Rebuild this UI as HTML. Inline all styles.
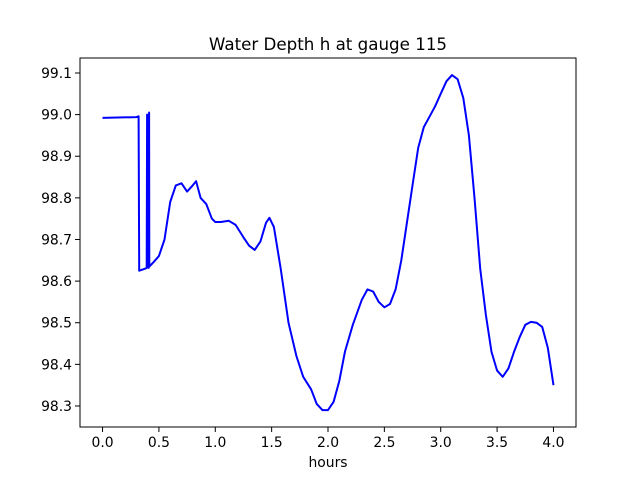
<!DOCTYPE html>
<html><head><meta charset="utf-8"><style>
html,body{margin:0;padding:0;background:#fff;}
svg{display:block;font-family:"DejaVu Sans","Liberation Sans",sans-serif;}
</style></head><body>
<svg id="chart" width="640" height="480" viewBox="0 0 640 480" xmlns="http://www.w3.org/2000/svg">
<rect width="640" height="480" fill="#fff"/>
<text x="328" y="50" text-anchor="middle" font-size="16.7" fill="#000">Water Depth h at gauge 115</text>
<g id="plot"></g>
<rect x="80" y="58" width="496" height="369" fill="none" stroke="#000" stroke-width="1"/>
<text x="328" y="467" text-anchor="middle" font-size="13.9" fill="#000">hours</text>
</svg>
<script>
const hours=[0,0.3,0.32,0.325,0.38,0.392,0.395,0.398,0.405,0.41,0.413,0.415,0.45,0.5,0.55,0.6,0.65,0.7,0.75,0.8,0.83,0.87,0.92,0.97,1.0,1.05,1.12,1.18,1.25,1.3,1.35,1.4,1.45,1.48,1.52,1.58,1.65,1.72,1.78,1.85,1.9,1.95,2.0,2.05,2.1,2.15,2.22,2.3,2.35,2.4,2.45,2.5,2.55,2.6,2.65,2.7,2.75,2.8,2.85,2.9,2.95,3.0,3.05,3.1,3.15,3.2,3.25,3.3,3.35,3.4,3.45,3.5,3.55,3.6,3.65,3.7,3.75,3.8,3.85,3.9,3.95,4.0];
const depth=[98.992,98.994,98.996,98.625,98.63,98.632,99.0,99.0,98.632,98.632,99.005,98.635,98.645,98.66,98.70,98.79,98.83,98.835,98.815,98.83,98.84,98.80,98.785,98.75,98.742,98.742,98.745,98.735,98.705,98.685,98.675,98.695,98.74,98.752,98.73,98.63,98.5,98.42,98.37,98.34,98.305,98.29,98.29,98.31,98.36,98.43,98.495,98.555,98.58,98.575,98.55,98.537,98.545,98.58,98.65,98.74,98.83,98.92,98.97,98.995,99.02,99.05,99.08,99.095,99.085,99.04,98.95,98.8,98.63,98.52,98.43,98.385,98.37,98.39,98.43,98.465,98.495,98.502,98.5,98.49,98.44,98.35];
const xTicks=[0,0.5,1.0,1.5,2.0,2.5,3.0,3.5,4.0];
const xTickLabels=["0.0","0.5","1.0","1.5","2.0","2.5","3.0","3.5","4.0"];
const yTicks=[98.3,98.4,98.5,98.6,98.7,98.8,98.9,99.0,99.1];
const yTickLabels=["98.3","98.4","98.5","98.6","98.7","98.8","98.9","99.0","99.1"];

const X0=80,X1=576,Y0=58,Y1=427;
const xMin=-0.2,xMax=4.2,yMin=98.2495,yMax=99.136;
function xs(v){return X0+(v-xMin)/(xMax-xMin)*(X1-X0);}
function ys(v){return Y1-(v-yMin)/(yMax-yMin)*(Y1-Y0);}
const NS="http://www.w3.org/2000/svg";
const g=document.getElementById('plot');
xTicks.forEach((t,i)=>{
  const l=document.createElementNS(NS,'line');
  
  
  l.setAttribute('x1',xs(t));l.setAttribute('x2',xs(t));l.setAttribute('y1',Y1);l.setAttribute('y2',Y1+5);l.setAttribute('stroke','#000');
  g.appendChild(l);
  const tx=document.createElementNS(NS,'text');
  
  
  tx.setAttribute('x',xs(t));tx.setAttribute('y',Y1+20);tx.setAttribute('text-anchor','middle');tx.setAttribute('font-size','13.9');
  tx.textContent=xTickLabels[i];g.appendChild(tx);
});
yTicks.forEach((t,i)=>{
  const l=document.createElementNS(NS,'line');
  
  
  l.setAttribute('x1',X0-5);l.setAttribute('x2',X0);l.setAttribute('y1',ys(t));l.setAttribute('y2',ys(t));l.setAttribute('stroke','#000');
  g.appendChild(l);
  const tx=document.createElementNS(NS,'text');
  
  
  tx.setAttribute('x',X0-8);tx.setAttribute('y',ys(t)+5);tx.setAttribute('text-anchor','end');tx.setAttribute('font-size','13.9');
  tx.textContent=yTickLabels[i];g.appendChild(tx);
});
const p=document.createElementNS(NS,'polyline');


p.setAttribute('points',hours.map((h,i)=>xs(h).toFixed(1)+','+ys(depth[i]).toFixed(1)).join(' '));
p.setAttribute('fill','none');p.setAttribute('stroke','#0000ff');p.setAttribute('stroke-width','2');p.setAttribute('stroke-linejoin','round');
g.appendChild(p);
</script>
</body></html>
